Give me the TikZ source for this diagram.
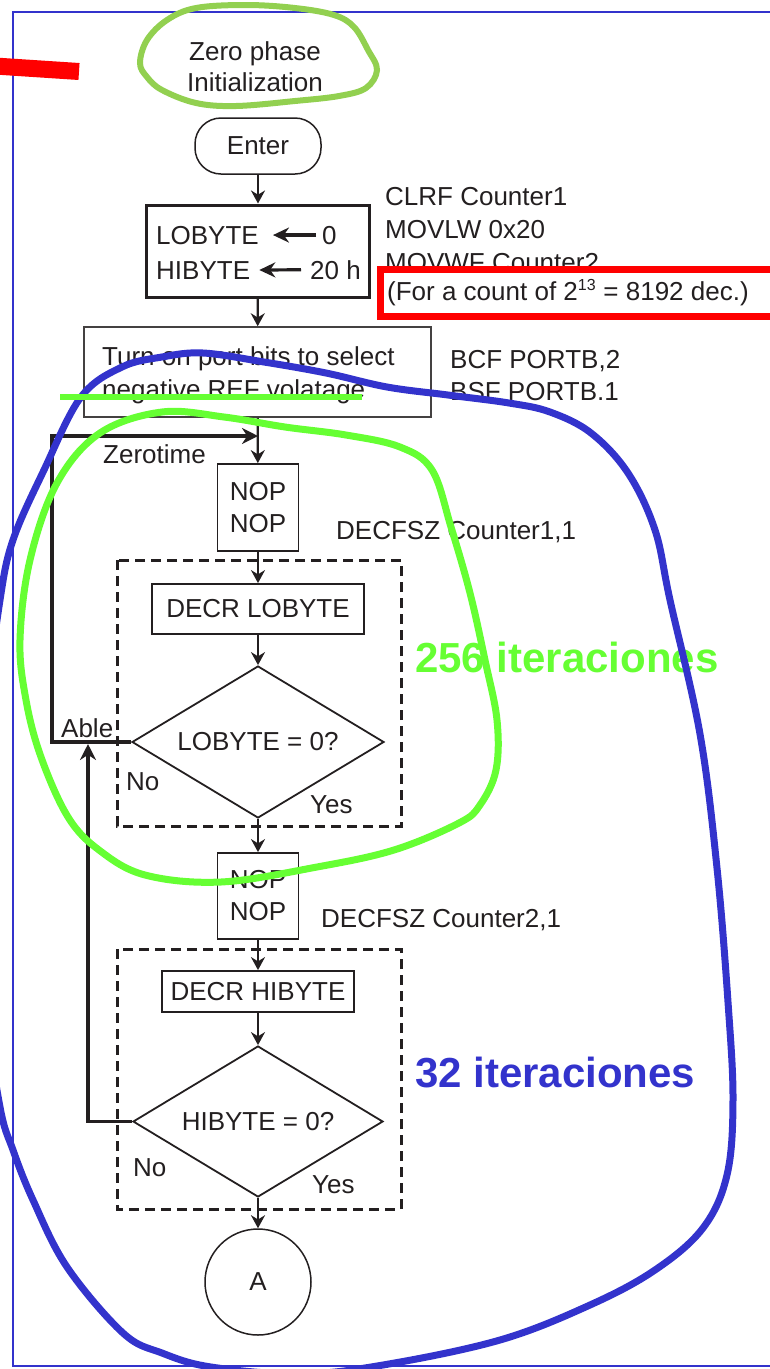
\documentclass[tikz,border=0pt]{standalone}
\usepackage{fontspec}
\setmainfont{Liberation Sans}
\usetikzlibrary{arrows.meta,shapes.geometric}
\definecolor{ink}{RGB}{35,31,32}
\definecolor{frameblue}{RGB}{51,51,204}
\definecolor{loopgreen}{RGB}{102,255,51}
\definecolor{softgreen}{RGB}{146,208,80}
\definecolor{markred}{RGB}{255,0,0}
\begin{document}
\begin{tikzpicture}[x=1pt,y=-1pt,
  every node/.style={font=\fontsize{26}{32}\selectfont, text=ink, inner sep=0pt},
  lbl/.style={anchor=base west},
  procbox/.style={draw=ink, line width=1.8pt, align=center},
  flow/.style={draw=ink, line width=2.2pt, -{Stealth[length=13pt,width=14pt]}},
  backline/.style={draw=ink, line width=3.2pt, -{Stealth[length=16pt,width=16pt]}},
  assign/.style={draw=ink, line width=3.2pt, -{Stealth[length=16pt,width=15pt]}},
  decision/.style={draw=ink, line width=1.8pt, diamond, aspect=1.66,
    minimum width=252pt, minimum height=152pt},
  dashbox/.style={draw=ink, line width=3pt, dash pattern=on 10pt off 6pt},
  iter/.style={anchor=base west, font=\fontsize{42}{50}\selectfont\bfseries},
  hiloop/.style={line width=7pt, line join=round},
]
\useasboundingbox (0,0) rectangle (770,1369);
\clip (0,0) rectangle (770,1369);

% page frame
\draw[frameblue, line width=1.5pt] (790,12) -- (13,12) -- (13,1366) -- (790,1366);

% title
\node[anchor=base] (zp1) at (255,60) {Zero phase};
\node[anchor=base] (zp2) at (255,91) {Initialization};

% start
\node[procbox, line width=1.5pt, rounded corners=26pt, minimum width=126pt, minimum height=56pt] (enter) at (258,146) {Enter};

% initial values
\node[draw=ink, line width=3pt, minimum width=223pt, minimum height=92pt] (init) at (258,251) {};
\node[lbl] (lo) at (156,244) {LOBYTE};
\node[lbl] (lozero) at (322,244) {0};
\node[lbl] (hi) at (156,279) {HIBYTE};
\node[lbl] (hival) at (310,279) {20 h};
\draw[assign, shorten <=6pt, shorten >=14pt] (lozero.west) -- (lo.east);
\draw[assign, shorten <=9pt, shorten >=9pt] (hival.west) -- (hi.east);
\node[lbl] (c1) at (385,205) {CLRF Counter1};
\node[lbl] (c2) at (385,238) {MOVLW 0x20};
\node[lbl] (c3) at (385,271) {MOVWF Counter2};

% reference selection
\node[draw=ink!85, line width=1.5pt, minimum width=347pt, minimum height=90pt] (port) at (257.5,372) {};
\node[lbl] (port1) at (102,365) {Turn on port bits to select};
\node[lbl] (port2) at (102,398) {negative REF volatage};
\node[lbl] (b1) at (450,368) {BCF PORTB,2};
\node[lbl] (b2) at (450,400) {BSF PORTB.1};
\node[lbl] (zt) at (103,463) {Zerotime};

% inner loop
\node[procbox, minimum width=81pt, minimum height=87pt] (nop1) at (258,507.5) {NOP\\NOP};
\node[lbl] (dec1) at (336,539) {DECFSZ Counter1,1};
\draw[dashbox] (117,560) rectangle (401,826);
\node[procbox, minimum width=212pt, minimum height=50pt] (declo) at (258,609) {DECR LOBYTE};
\node[decision] (dia1) at (258,742) {LOBYTE = 0?};
\node[lbl] (no1) at (126,790) {No};
\node[lbl] (yes1) at (310,813) {Yes};
\node[lbl] (able) at (61,737) {Able};

% outer loop
\node[procbox, minimum width=81pt, minimum height=86pt] (nop2) at (258,896) {NOP\\NOP};
\node[lbl] (dec2) at (321,927) {DECFSZ Counter2,1};
\draw[dashbox] (117,949) rectangle (401,1209);
\node[procbox, minimum width=192pt, minimum height=41pt] (dechi) at (258,991.5) {DECR HIBYTE};
\node[decision, minimum width=250pt, minimum height=151pt] (dia2) at (258,1121.5) {HIBYTE = 0?};
\node[lbl] (no2) at (133,1176) {No};
\node[lbl] (yes2) at (312,1193) {Yes};
\node[circle, draw=ink, line width=1.5pt, minimum size=106pt] (A) at (258,1282) {A};

% main flow
\draw[flow] (enter) -- (init);
\draw[flow] (init) -- (port);
\draw[flow] (port) -- (nop1);
\draw[flow] (nop1) -- (declo);
\draw[flow] (declo) -- (dia1);
\draw[flow] (dia1) -- (nop2);
\draw[flow] (nop2) -- (dechi);
\draw[flow] (dechi) -- (dia2);
\draw[flow] (dia2) -- (A);

% loop-back paths
\coordinate (ztcorner) at (52,436);
\coordinate (ztjoin) at (258,436);
\draw[backline] (dia1.west) -| (ztcorner) -- (ztjoin);
\coordinate (ablejoin) at (88,744);
\draw[backline] (dia2.west) -| (ablejoin);

% iteration counts
\node[iter, text=loopgreen] (it1) at (415,672) {256 iteraciones};
\node[iter, text=frameblue] (it2) at (415,1087) {32 iteraciones};

% hand-drawn highlights
\draw[softgreen, line width=6pt] plot[smooth cycle, tension=0.6] coordinates {
  (140,63) (147,40) (167,20) (196,8) (246,5) (295,8) (334,15) (354,27)
  (368,50) (377,70) (366,88) (339,96) (295,101) (236,106) (196,103)
  (162,90) (147,77)};
\draw[loopgreen, hiloop] plot[smooth cycle, tension=0.6] coordinates {
  (20,640) (30,560) (57,483) (100,433) (162,412) (224,417) (285,427)
  (346,435) (400,447) (432,470) (451,527) (470,593) (485,660) (497,720)
  (496,770) (480,805) (459,823) (394,850) (317,867) (221,882) (145,875)
  (99,850) (68,817) (41,757) (26,700)};
\draw[frameblue, hiloop] plot[smooth cycle, tension=0.6] coordinates {
  (44,470) (81,397) (122,367) (162,357) (203,353) (264,362) (326,373)
  (387,387) (448,395) (509,403) (550,412) (591,433) (628,473) (655,530)
  (670,600) (700,734) (717,868) (728,1002) (733,1100) (727,1175)
  (703,1228) (655,1270) (590,1305) (500,1340) (383,1365) (300,1374)
  (211,1367) (162,1353) (123,1333) (67,1267) (33,1200) (13,1150)
  (0,1107) (-15,1000) (-22,850) (-12,700) (0,600) (13,540)};
\draw[loopgreen, line width=6pt] (60,397) -- (362,397);
\draw[markred, line width=7pt, fill=white] (380,269) rectangle (790,316);
\node[lbl] (count) at (387,300) {(For a count of 2\textsuperscript{\fontsize{16}{16}\selectfont 13} = 8192 dec.)};
\draw[markred, line width=17pt] (-5,66) -- (79,71.5);
\end{tikzpicture}
\end{document}
